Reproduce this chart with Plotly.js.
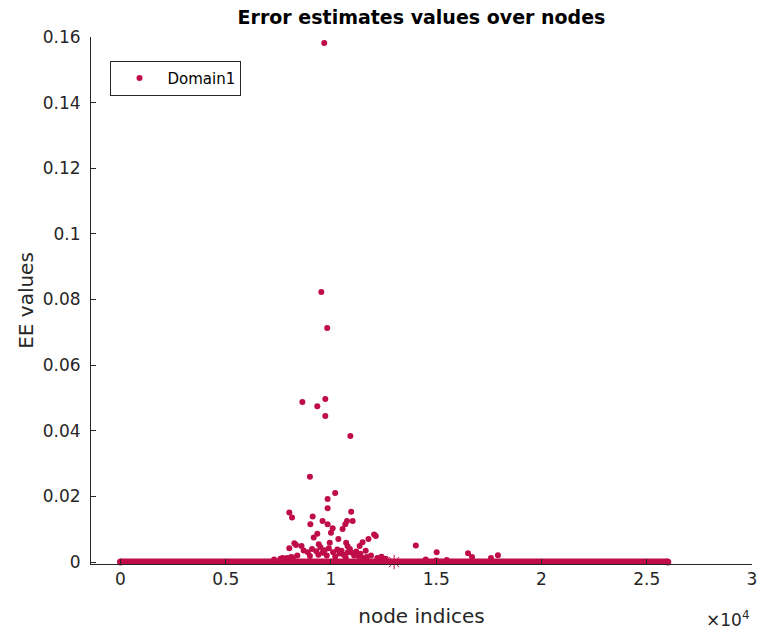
<!DOCTYPE html>
<html>
<head>
<meta charset="utf-8">
<script src="https://cdn.plot.ly/plotly-3.0.1.min.js"></script>
<style>html,body{margin:0;padding:0;background:#fff;}#chart{width:761px;height:633px;}</style>
</head>
<body>
<div id="chart"></div>
<script>
// Node indices and EE values of the visible non-zero points
const nodeIdx = [
  9680, 9540, 9820, 8640, 9350, 9730, 9730, 10920, 9000, 10200,
  9840, 9840, 10960, 8020, 8150, 9130, 9020, 9600, 9840, 10080,
  10760, 11030, 10680, 10550, 10000, 9350, 12050, 12130, 11780, 11500,
  11360, 10350, 9180, 9940, 9420, 8260, 8340, 8020, 8600, 10720,
  10790, 14030, 11650,
  8700, 8900, 9100, 9300, 9500, 9600, 9700, 9900, 10100, 10300,
  10400, 10500, 10600, 10800, 10900, 11000, 11100, 11200, 11300, 11400,
  11700, 11900, 12200, 12400, 12600, 8400, 8200, 7900, 7600, 7300,
  9000, 9400, 9800, 10200, 10700, 11500,
  14500, 15000, 15500, 15020, 16510, 16700, 17930, 17600, 7700, 8100
];
const eeVals = [
  0.1582, 0.0823, 0.0713, 0.0488, 0.0475, 0.0497, 0.0445, 0.0384, 0.0260, 0.0210,
  0.0192, 0.0164, 0.0153, 0.0151, 0.0136, 0.0139, 0.0115, 0.0125, 0.0115, 0.0103,
  0.0125, 0.0125, 0.0115, 0.0101, 0.0089, 0.0086, 0.0084, 0.0079, 0.0070, 0.0060,
  0.0049, 0.0070, 0.0075, 0.0059, 0.0054, 0.0057, 0.0052, 0.0042, 0.0049, 0.0059,
  0.0048, 0.0050, 0.0034,
  0.0035, 0.0030, 0.0040, 0.0033, 0.0045, 0.0028, 0.0036, 0.0042, 0.0030, 0.0038,
  0.0026, 0.0034, 0.0022, 0.0030, 0.0040, 0.0028, 0.0020, 0.0032, 0.0018, 0.0025,
  0.0015, 0.0020, 0.0012, 0.0016, 0.0010, 0.0020, 0.0014, 0.0012, 0.0010, 0.0008,
  0.0018, 0.0022, 0.0020, 0.0016, 0.0014, 0.0012,
  0.0008, 0.0005, 0.0006, 0.0030, 0.0027, 0.0015, 0.0021, 0.0012, 0.0012, 0.0015
];
// Nodes whose EE value is zero: the run from first to last node
const zeroRunX = [0, 26000];
const zeroRunY = [0, 0];
// Star marker on the zero line
const starX = [13000];
const starY = [0];

const xTickVals = [0, 5000, 10000, 15000, 20000, 25000, 30000];
const xTickText = ['0', '0.5', '1', '1.5', '2', '2.5', '3'];
const yTickVals = [0, 0.02, 0.04, 0.06, 0.08, 0.1, 0.12, 0.14, 0.16];
const yTickText = ['0', '0.02', '0.04', '0.06', '0.08', '0.1', '0.12', '0.14', '0.16'];

const col = '#bf0d49';
const txt = '#262626';
const fnt = 'DejaVu Sans, Liberation Sans, sans-serif';

const traces = [
  {
    x: zeroRunX, y: zeroRunY, type: 'scatter', mode: 'lines+markers',
    line: {color: col, width: 7}, marker: {color: col, size: 7},
    cliponaxis: false, showlegend: false, hoverinfo: 'skip'
  },
  {
    x: nodeIdx, y: eeVals, type: 'scatter', mode: 'markers', name: 'Domain1',
    marker: {color: col, size: 6}, cliponaxis: false
  },
  {
    x: starX, y: starY, type: 'scatter', mode: 'markers', showlegend: false,
    marker: {color: col, size: 12, symbol: 'asterisk-open', line: {color: col, width: 1}},
    cliponaxis: false
  }
];

const layout = {
  width: 761, height: 633,
  margin: {l: 91, r: 9, t: 37, b: 69},
  paper_bgcolor: '#fff', plot_bgcolor: '#fff',
  font: {family: fnt, color: txt, size: 17},
  title: {text: 'Error estimates values over nodes', font: {family: fnt, size: 19, color: '#000', weight: 'bold'},
          xref: 'paper', x: 0.5, xanchor: 'center', yref: 'container', y: 0.973, yanchor: 'middle'},
  showlegend: true,
  legend: {x: 0.0295, xanchor: 'left', y: 0.955, yanchor: 'top', bgcolor: '#fff',
           bordercolor: '#262626', borderwidth: 1, font: {family: fnt, size: 15, color: '#000'},
           itemwidth: 46},
  xaxis: {
    range: [-1400, 30000], showgrid: false, zeroline: false,
    showline: true, linecolor: txt, linewidth: 1,
    ticks: 'inside', ticklen: 5, tickcolor: txt,
    tickmode: 'array', tickvals: xTickVals, ticktext: xTickText,
    tickfont: {family: fnt, size: 17, color: txt},
    title: {text: 'node indices', font: {family: fnt, size: 20, color: txt}, standoff: 20}
  },
  yaxis: {
    range: [-0.0006, 0.16], showgrid: false, zeroline: false,
    showline: true, linecolor: txt, linewidth: 1,
    ticks: 'inside', ticklen: 5, tickcolor: txt, ticklabelstandoff: 6,
    tickmode: 'array', tickvals: yTickVals, ticktext: yTickText,
    tickfont: {family: fnt, size: 17, color: txt},
    title: {text: 'EE values', font: {family: fnt, size: 20, color: txt}, standoff: 3}
  },
  annotations: [
    {xref: 'paper', yref: 'paper', x: 0.998, y: -0.104, xanchor: 'right', yanchor: 'middle',
     text: '×10<sup>4</sup>', showarrow: false, font: {family: fnt, size: 17, color: txt}}
  ]
};

Plotly.newPlot('chart', traces, layout, {displayModeBar: false, staticPlot: true});
</script>
</body>
</html>
